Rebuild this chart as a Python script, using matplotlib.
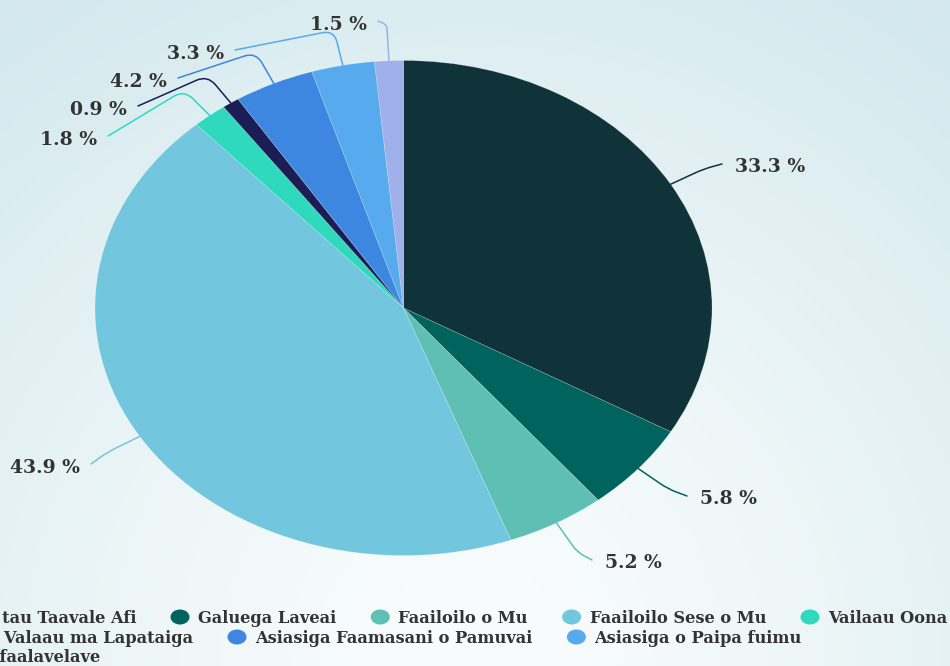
import numpy as np
import matplotlib
matplotlib.use('Agg')
import matplotlib.pyplot as plt
from matplotlib.patches import Ellipse, PathPatch
from matplotlib.path import Path
from matplotlib.colors import to_rgb

# slices, clockwise from 12 o'clock
categories = ['Faalavelave tau Taavale Afi', 'Galuega Laveai', 'Faailoilo o Mu',
              'Faailoilo Sese o Mu', 'Vailaau Oona', 'Tali atu i Valaau ma Lapataiga',
              'Asiasiga Faamasani o Pamuvai', 'Asiasiga o Paipa fuimu', 'Isi faalavelave']
shares = [33.3, 5.8, 5.2, 43.9, 1.8, 0.9, 4.2, 3.3, 1.5]
colors = ['#0f3339', '#00635e', '#5fbfb5', '#72c6dd', '#2ed9bd',
          '#1b1d55', '#3d87e0', '#57aaee', '#9fb0ea']

W, H = 950, 666
cx, cy, R = 403.5, 308, 247.5   # pie centre / vertical radius in pixels
sx = 308.5 / 247.5              # horizontal stretch of the pie

# where each percentage label sits (pixels, from top-left)
label_xy = [(735, 165), (700, 497), (605, 561), (80, 466), (97, 138),
            (127, 108), (167, 80), (224, 52), (367, 23)]

txt_col = '#333333'
serif = 'DejaVu Serif'

fig = plt.figure(figsize=(W / 100, H / 100), dpi=100)
fig.patch.set_facecolor('white')

# background: soft radial gradient, white near bottom centre
bg = fig.add_axes([0, 0, 1, 1], zorder=0)
yy, xx = np.mgrid[0:H:4, 0:W:4]
d = np.clip(np.hypot(xx - 470, yy - 650) / 760, 0, 1) ** 1.4
c0 = np.array(to_rgb('#f9fcfc'))
c1 = np.array(to_rgb('#d4e9ee'))
img = c0[None, None, :] * (1 - d[..., None]) + c1[None, None, :] * d[..., None]
bg.imshow(img, extent=(0, W, H, 0), aspect='auto', interpolation='bilinear')
bg.set_xlim(0, W)
bg.set_ylim(H, 0)
bg.axis('off')

# pie
ax = fig.add_axes([0, 0, 1, 1], zorder=1)
wedges, _ = ax.pie(shares, colors=colors, startangle=-90, counterclock=True,
                   center=(cx / sx, cy), radius=R,
                   wedgeprops=dict(edgecolor=(1, 1, 1, 0.25), linewidth=0.5))
ax.set_aspect('auto')
ax.set_xlim(0, W / sx)
ax.set_ylim(H, 0)
ax.axis('off')

# overlay for labels, connectors and legend (pixel coords)
lay = fig.add_axes([0, 0, 1, 1], zorder=2)
lay.set_xlim(0, W)
lay.set_ylim(H, 0)
lay.axis('off')


def connector(p_end, p_corner, p_edge, color, rad=12):
    a, c, b = np.array(p_end), np.array(p_corner), np.array(p_edge)
    la, lb = np.linalg.norm(a - c), np.linalg.norm(b - c)
    r = min(rad, 0.45 * la, 0.45 * lb)
    q1 = c + (a - c) / la * r
    q2 = c + (b - c) / lb * r
    verts = [a, q1, c, q2, b]
    codes = [Path.MOVETO, Path.LINETO, Path.CURVE3, Path.CURVE3, Path.LINETO]
    lay.add_patch(PathPatch(Path(verts, codes), fill=False, edgecolor=color,
                            lw=1.1, capstyle='round'))


for w, v, col, (lx, ly) in zip(wedges, shares, colors, label_xy):
    th = np.deg2rad((w.theta1 + w.theta2) / 2)
    edge = np.array([cx + sx * R * np.cos(th), cy + R * np.sin(th)])
    u = np.array([sx * np.cos(th), np.sin(th)])
    u = u / np.linalg.norm(u)
    corner = edge + u * 36
    right = lx > cx
    end = (lx - 13, ly - 1) if right else (lx + 11, ly - 2)
    connector(end, corner, edge, col)
    lay.text(lx, ly + 7, f'{v:.1f} %', ha='left' if right else 'right',
             va='baseline', fontsize=13.5, fontweight='bold', family=serif,
             color=txt_col)

# legend, flowing left to right like the original (partly cut off on the left)
rows = [[0, 1, 2, 3, 4], [5, 6, 7], [8]]
row_y = [617, 637, 656]
row_first_end = [136, 193, 100]
renderer = fig.canvas.get_renderer()
for row, y, first_end in zip(rows, row_y, row_first_end):
    end = None
    for k, idx in enumerate(row):
        kw = dict(va='baseline', fontsize=11.7, fontweight='bold',
                  family=serif, color=txt_col)
        if k == 0:
            t = lay.text(first_end, y + 6, categories[idx], ha='right', **kw)
            wd = t.get_window_extent(renderer).width
            mx = first_end - wd - 18
            end = first_end
        else:
            mx = end + 44
            t = lay.text(mx + 18, y + 6, categories[idx], ha='left', **kw)
            end = mx + 18 + t.get_window_extent(renderer).width
        lay.add_patch(Ellipse((mx, y), 19, 15, color=colors[idx], lw=0))

fig.savefig('out.png', dpi=100)
